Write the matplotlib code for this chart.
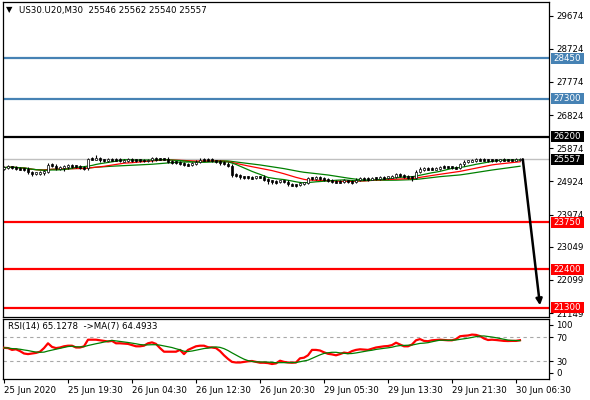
import numpy as np
import pandas as pd
import matplotlib
matplotlib.use("Agg")
import matplotlib.pyplot as plt
from matplotlib.patches import Rectangle
import matplotlib.transforms as mtransforms

# ---------------- data ----------------
symbol = "US30.U20,M30"
last_ohlc = [25546, 25562, 25540, 25557]
first_open = 25298

closes = [
    25317, 25337, 25337, 25299, 25279, 25279, 25184, 25145, 25165, 25184,
    25203, 25404, 25375, 25299, 25318, 25356, 25375, 25356, 25356, 25318,
    25299, 25567, 25567, 25586, 25528, 25528, 25547, 25547, 25547, 25509,
    25528, 25547, 25528, 25528, 25528, 25519, 25528, 25586, 25567, 25567,
    25567, 25490, 25471, 25471, 25452, 25413, 25394, 25433, 25490, 25547,
    25547, 25547, 25509, 25490, 25452, 25433, 25375, 25107, 25088, 25050,
    25050, 25031, 25031, 25050, 25050, 24973, 24935, 24916, 24916, 24935,
    24916, 24839, 24820, 24820, 24858, 24877, 25011, 25011, 25031, 25011,
    24973, 24954, 24916, 24916, 24916, 24935, 24916, 24916, 24973, 25011,
    24992, 24992, 25011, 25011, 25031, 25031, 25050, 25059, 25126, 25107,
    25069, 25050, 25031, 25203, 25279, 25299, 25279, 25279, 25299, 25337,
    25337, 25337, 25318, 25318, 25413, 25490, 25509, 25528, 25547, 25547,
    25538, 25528, 25528, 25528, 25538, 25538, 25538, 25538, 25546, 25557,
]

upper_wick = [
    20, 25, 20, 15, 20, 15, 25, 30, 20, 25,
    20, 40, 20, 25, 20, 30, 20, 20, 20, 25,
    15, 10, 30, 85, 20, 20, 25, 20, 20, 25,
    20, 20, 25, 20, 20, 20, 25, 30, 20, 20,
    20, 25, 20, 20, 25, 20, 20, 25, 20, 20,
    30, 20, 20, 20, 20, 25, 20, 30, 25, 20,
    20, 20, 25, 20, 20, 25, 20, 20, 30, 20,
    20, 25, 20, 20, 25, 20, 30, 20, 20, 25,
    20, 20, 25, 20, 20, 25, 20, 20, 25, 20,
    20, 25, 20, 20, 25, 20, 20, 25, 30, 20,
    20, 25, 20, 30, 25, 20, 20, 25, 20, 20,
    25, 20, 20, 20, 25, 20, 20, 25, 20, 30,
    20, 20, 25, 20, 20, 25, 20, 20, 16, 5,
]

lower_wick = [
    20, 20, 25, 20, 20, 25, 30, 60, 20, 40,
    50, 20, 25, 20, 20, 80, 60, 20, 20, 20,
    20, 15, 20, 20, 25, 20, 20, 20, 25, 20,
    20, 20, 20, 25, 20, 20, 20, 20, 25, 20,
    20, 25, 20, 20, 30, 25, 20, 20, 20, 20,
    20, 25, 20, 20, 25, 20, 20, 40, 30, 25,
    50, 20, 20, 25, 20, 30, 60, 50, 60, 20,
    25, 30, 20, 25, 20, 20, 20, 25, 20, 20,
    25, 20, 25, 20, 20, 20, 25, 60, 20, 20,
    20, 25, 20, 20, 20, 25, 20, 20, 20, 25,
    20, 25, 80, 20, 20, 25, 20, 20, 20, 25,
    20, 20, 25, 20, 20, 20, 25, 20, 20, 20,
    20, 25, 20, 20, 20, 20, 20, 20, 20, 6,
]

rsi_values = [
    52.5, 52, 49, 50, 47, 43, 42, 43, 44, 46,
    52, 60, 54, 52, 53, 55, 56, 56, 53, 53,
    55, 66, 66, 66, 65, 64, 63, 64, 60, 60,
    59.5, 59, 57, 55, 55, 56, 60, 61.5, 59, 52,
    46, 46, 46, 46, 49, 42, 49, 52, 55, 56,
    56, 53.5, 53, 52, 47, 40, 34, 29, 28, 28,
    29, 30, 30.5, 29, 27.6, 27.6, 27, 25.5, 26.5, 31,
    29, 28, 27.6, 28, 35, 36, 40, 49, 49, 48,
    45, 42.5, 41.5, 40, 42, 44.5, 43.5, 47, 49, 50,
    49.5, 49, 51, 53, 54, 55, 55.5, 57, 61, 58,
    55, 55, 58, 65, 67, 64, 63.5, 65, 65.5, 66,
    65.5, 65, 65, 67, 71.7, 72.5, 73, 74.5, 74, 72,
    68, 65.5, 66, 65.5, 64.8, 64, 63.8, 64, 64, 65.13,
]
rsi_label = "RSI(14) 65.1278  ->MA(7) 64.4933"

time_labels = ["25 Jun 2020", "25 Jun 19:30", "26 Jun 04:30", "26 Jun 12:30",
               "26 Jun 20:30", "29 Jun 05:30", "29 Jun 13:30", "29 Jun 21:30",
               "30 Jun 06:30"]
time_label_bars = [0, 16, 32, 48, 64, 80, 96, 112, 128]

price_ticks = [29674, 28724, 27774, 26824, 25874, 24924, 23974, 23049, 22099, 21149]
levels = [28450, 27300, 26200, 23750, 22400, 21300]
level_colors = ["#4682B4", "#4682B4", "#000000", "#FF0000", "#FF0000", "#FF0000"]
current_price = 25557
arrow_start = (129.7, 25557)
arrow_end = (134.0, 21370)

ma_fast, ma_mid, ma_slow = 10, 20, 34
rsi_ma_period = 7

# ---------------- figure ----------------
FS = 6.2
plt.rcParams["font.family"] = ["DejaVu Sans"]
W, H = 590, 400
fig = plt.figure(figsize=(W / 100, H / 100), dpi=100)

left_px, right_px = 2.5, 549
ax = fig.add_axes([left_px / W, 1 - 316.7 / H, (right_px - left_px) / W, (316.7 - 2) / H])
axr = fig.add_axes([left_px / W, 1 - 379.3 / H, (right_px - left_px) / W, (379.3 - 319.3) / H])

n = len(closes)
x = np.arange(n)
c = np.array(closes, dtype=float)
o = np.r_[first_open, c[:-1]]
hi = np.maximum(o, c) + np.array(upper_wick)
lo = np.minimum(o, c) - np.array(lower_wick)

xlim = (-(4 - left_px) / 4, (right_px - 4) / 4)

# price axis limits
ppx = 28.67
ymax = current_price + (159.3 - 2) * ppx
ymin = current_price - (316.7 - 159.3) * ppx

s = pd.Series(c)
ax.plot(x, s.rolling(ma_slow, min_periods=1).mean(), color="#008000", lw=0.9, zorder=2)
ax.plot(x, s.rolling(ma_mid, min_periods=1).mean(), color="#FF0000", lw=0.9, zorder=2)
ax.plot(x, s.rolling(ma_fast, min_periods=1).mean(), color="#008000", lw=0.9, zorder=2)

ax.axhline(current_price, color="#C0C0C0", lw=1.0, zorder=1)
for lv, col in zip(levels, level_colors):
    ax.axhline(lv, color=col, lw=1.6, zorder=2)

minb = 55
ax.vlines(x, lo - 20, hi + 20, color="black", lw=0.8, zorder=3)
body_h = np.maximum(np.abs(c - o), minb)
body_b = np.where(np.abs(c - o) < minb, (o + c) / 2 - minb / 2, np.minimum(o, c))
colors = ["white" if cc > oo else "black" for cc, oo in zip(c, o)]
ax.bar(x, body_h, bottom=body_b, width=0.55, color=colors, edgecolor="black",
       linewidth=0.5, zorder=4)

ax.annotate("", xy=arrow_end, xytext=arrow_start,
            arrowprops=dict(arrowstyle="-|>", color="black", lw=1.8,
                            mutation_scale=9, shrinkA=0, shrinkB=0),
            zorder=6)

ax.set_xlim(*xlim)
ax.set_ylim(ymin, ymax)
ax.set_xticks([])
ax.yaxis.tick_right()
ax.set_yticks(price_ticks)
ax.set_yticklabels([str(t) for t in price_ticks])
ax.tick_params(axis="y", length=3, width=0.8, labelsize=FS, pad=2, colors="black")
for sp in ax.spines.values():
    sp.set_linewidth(0.9)

# price label boxes
tr = mtransforms.blended_transform_factory(ax.transAxes, ax.transData)
bx0 = (551 - left_px) / (right_px - left_px)
bw = 33 / (right_px - left_px)
tx0 = (553 - left_px) / (right_px - left_px)
box_levels = levels + [current_price]
box_colors = level_colors + ["#000000"]
for lv, col in zip(box_levels, box_colors):
    ax.add_patch(Rectangle((bx0, lv - 5.5 * ppx), bw, 11 * ppx, transform=tr,
                           facecolor=col, edgecolor="none", clip_on=False, zorder=7))
    ax.text(tx0, lv, str(lv), transform=tr, color="white", fontsize=FS,
            va="center", ha="left", clip_on=False, zorder=8)

# header
fig.text(9.5 / W, 1 - 10 / H, "▼", fontsize=6, ha="center", va="center")
fig.text(19 / W, 1 - 10 / H,
         f"{symbol}  {last_ohlc[0]} {last_ohlc[1]} {last_ohlc[2]} {last_ohlc[3]}",
         fontsize=FS, ha="left", va="center")

# ---------------- RSI panel ----------------
r = pd.Series(rsi_values)
axr.axhline(70, color="#A8A8A8", lw=0.8, ls=(0, (3, 3)), zorder=1)
axr.axhline(30, color="#A8A8A8", lw=0.8, ls=(0, (3, 3)), zorder=1)
axr.plot(x, r, color="#FF0000", lw=1.6, zorder=3)
axr.plot(x, r.rolling(rsi_ma_period, min_periods=1).mean(), color="#008000", lw=0.9, zorder=4)
axr.set_xlim(*xlim)
axr.set_ylim(0, 100)
axr.yaxis.tick_right()
axr.set_yticks([91, 70, 30, 11])
axr.set_yticklabels(["100", "70", "30", "0"])
axr.tick_params(axis="y", length=3, width=0.8, labelsize=FS, pad=2)
axr.set_xticks(time_label_bars)
axr.set_xticklabels(time_labels, ha="left")
axr.tick_params(axis="x", length=3, width=0.8, labelsize=FS, pad=2)
for sp in axr.spines.values():
    sp.set_linewidth(0.9)
axr.text((7.5 - left_px) / (right_px - left_px), 87.5, rsi_label,
         transform=mtransforms.blended_transform_factory(axr.transAxes, axr.transData),
         fontsize=FS, ha="left", va="center")

fig.savefig("out.png", dpi=100)
